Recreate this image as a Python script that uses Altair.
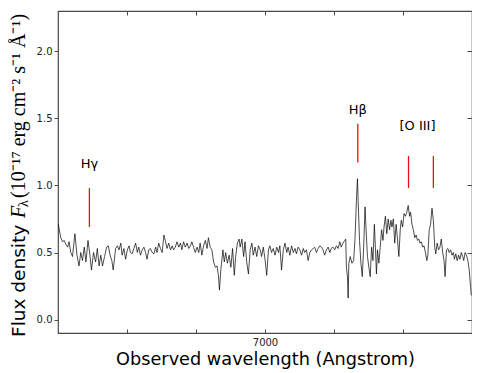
import altair as alt
import pandas as pd

# ---- spectrum (observed wavelength in Angstrom, flux in 1e-17 erg/cm2/s/A) ----
wavelength = [
    6401, 6408, 6413, 6418, 6423, 6428, 6432, 6437, 6442, 6449, 6455, 6461, 6466, 6471,
    6476, 6481, 6487, 6493, 6497, 6503, 6509, 6514, 6519, 6524, 6529, 6535, 6541, 6546,
    6551, 6556, 6560, 6567, 6572, 6577, 6582, 6586, 6591, 6596, 6601, 6606, 6610, 6615,
    6620, 6625, 6630, 6634, 6639, 6644, 6649, 6654, 6658, 6663, 6668, 6673, 6678, 6683,
    6687, 6692, 6697, 6702, 6707, 6711, 6716, 6721, 6726, 6731, 6735, 6740, 6745, 6750,
    6755, 6759, 6764, 6769, 6774, 6779, 6784, 6788, 6793, 6798, 6803, 6808, 6812, 6817,
    6822, 6827, 6832, 6836, 6841, 6846, 6851, 6856, 6861, 6865, 6868, 6872, 6878, 6882,
    6886, 6891, 6896, 6901, 6906, 6911, 6915, 6920, 6925,
    6928, 6933, 6938, 6942, 6947, 6952, 6957, 6962, 6966, 6971, 6976, 6981, 6986, 6990,
    6995, 7000, 7005, 7010, 7014, 7019, 7024, 7029, 7034, 7039, 7043, 7048, 7053, 7058,
    7063, 7067, 7072, 7077, 7082, 7087, 7091, 7096, 7101, 7106, 7111, 7115, 7120, 7125,
    7130, 7135, 7140, 7144, 7149, 7154, 7159, 7164, 7168, 7173, 7178, 7183, 7188, 7192,
    7197, 7202, 7207, 7212, 7217, 7221, 7226, 7231, 7234, 7236, 7239, 7241, 7243, 7247,
    7252, 7257, 7261, 7265, 7268, 7270, 7274, 7278, 7282, 7286, 7290, 7293, 7297, 7301,
    7305, 7309, 7313, 7317, 7320, 7323, 7326, 7330, 7334, 7338, 7342, 7345, 7349, 7353,
    7357, 7361, 7365, 7368, 7372, 7376, 7380, 7384, 7388, 7392, 7395, 7399, 7403, 7407,
    7411, 7415, 7419, 7422, 7426, 7430, 7434, 7438, 7442, 7446, 7449, 7453, 7457, 7461,
    7465, 7469, 7472, 7476, 7480, 7484, 7488, 7492, 7495, 7499, 7503, 7507, 7511, 7515,
    7519, 7522, 7526, 7530, 7534, 7538, 7542, 7546, 7549, 7553, 7557, 7561, 7565, 7569,
    7573, 7576, 7580, 7584, 7588, 7592, 7596, 7598,
]
flux = [
    0.71, 0.61, 0.58, 0.59, 0.56, 0.54, 0.58, 0.50, 0.47, 0.64, 0.48, 0.40, 0.50, 0.44,
    0.54, 0.43, 0.59, 0.47, 0.37, 0.50, 0.43, 0.53, 0.40, 0.48, 0.40, 0.47, 0.54, 0.55,
    0.48, 0.44, 0.37, 0.53, 0.55, 0.52, 0.57, 0.48, 0.53, 0.45, 0.52, 0.55, 0.50, 0.49,
    0.53, 0.57, 0.50, 0.54, 0.48, 0.52, 0.54, 0.50, 0.45, 0.52, 0.53, 0.50, 0.49, 0.54,
    0.50, 0.57, 0.53, 0.50, 0.63, 0.59, 0.53, 0.57, 0.52, 0.55, 0.52, 0.54, 0.58, 0.54,
    0.57, 0.52, 0.58, 0.54, 0.57, 0.53, 0.55, 0.58, 0.54, 0.50, 0.54, 0.50, 0.57, 0.48,
    0.55, 0.59, 0.53, 0.61, 0.54, 0.52, 0.43, 0.39, 0.40, 0.33, 0.22, 0.37, 0.52, 0.43,
    0.50, 0.42, 0.48, 0.39, 0.53, 0.33, 0.47, 0.57, 0.60,
    0.54, 0.60, 0.47, 0.58, 0.43, 0.34, 0.52, 0.57, 0.48, 0.54, 0.47, 0.55, 0.52, 0.47,
    0.54, 0.45, 0.33, 0.52, 0.55, 0.50, 0.53, 0.48, 0.54, 0.50, 0.55, 0.37, 0.52, 0.57,
    0.50, 0.54, 0.48, 0.55, 0.50, 0.53, 0.49, 0.54, 0.52, 0.48, 0.53, 0.50, 0.52, 0.44,
    0.50, 0.52, 0.53, 0.54, 0.50, 0.53, 0.55, 0.54, 0.52, 0.48, 0.52, 0.54, 0.50, 0.53,
    0.54, 0.52, 0.55, 0.53, 0.58, 0.54, 0.57, 0.59, 0.60, 0.39, 0.32, 0.16, 0.42, 0.47,
    0.42, 0.44, 0.61, 0.89, 1.05, 0.89, 0.59, 0.42, 0.32, 0.54, 0.84, 0.67, 0.47, 0.39,
    0.32, 0.54, 0.44, 0.71, 0.54, 0.34, 0.52, 0.42, 0.54, 0.67, 0.59, 0.69, 0.77, 0.64,
    0.75, 0.67, 0.74, 0.69, 0.75, 0.57, 0.71, 0.60, 0.47, 0.67, 0.74, 0.69, 0.79, 0.77,
    0.80, 0.85, 0.77, 0.80, 0.71, 0.67, 0.61, 0.63, 0.59, 0.60, 0.57, 0.58, 0.54, 0.55,
    0.50, 0.44, 0.48, 0.67, 0.71, 0.83, 0.74, 0.54, 0.49, 0.57, 0.52, 0.54, 0.60, 0.50,
    0.44, 0.32, 0.52, 0.53, 0.50, 0.52, 0.48, 0.50, 0.45, 0.49, 0.44, 0.48, 0.45, 0.50,
    0.47, 0.44, 0.50, 0.48, 0.44, 0.37, 0.24, 0.18,
]

# ---- emission-line markers ----
line_wl = [6491, 7269, 7416, 7488]
line_lo = [0.69, 1.17, 0.98, 0.98]
line_hi = [0.98, 1.46, 1.22, 1.22]

label_text = ["Hγ", "Hβ", "[O III]"]
label_wl = [6491, 7269, 7442]
label_y = [1.16, 1.56, 1.44]

# ---- axes ----
x_domain = [6400, 7600]
y_domain = [-0.1, 2.3]
x_ticks = [6600, 6800, 7000, 7200, 7400]
x_labelled = 7000
y_ticks = [0.0, 0.5, 1.0, 1.5, 2.0]
x_title = "Observed wavelength (Angstrom)"
y_title_sans = "Flux density"
y_title_f = "F"
y_title_sub = "λ"
y_title_rest = "(10⁻¹⁷ erg cm⁻² s⁻¹ Å⁻¹)"

W, H = 414, 322
FRAME = "#4a4a4a"

xs = alt.Scale(domain=x_domain, nice=False, zero=False)
ys = alt.Scale(domain=y_domain, nice=False, zero=False)

spec_df = pd.DataFrame({"wl": wavelength, "flux": flux})
lines_df = pd.DataFrame({"wl": line_wl, "lo": line_lo, "hi": line_hi})
labels_df = pd.DataFrame({"wl": label_wl, "y": label_y, "t": label_text})

spectrum = alt.Chart(spec_df).mark_line(color="black", strokeWidth=0.7).encode(
    x=alt.X("wl:Q", scale=xs, axis=alt.Axis(
        orient="bottom", values=x_ticks, format="d",
        labelExpr=f"datum.value == {x_labelled} ? datum.label : ''",
        ticks=False, tickSize=0, domain=False, grid=False,
        labelFont="DejaVu Sans", labelFontSize=10, labelColor="#222", labelPadding=4,
        title=x_title, titleFont="DejaVu Sans", titleFontSize=17.7, titleFontWeight="normal",
        titleColor="black", titleX=W / 2, titleY=31, titleBaseline="alphabetic",
        titleAlign="center")),
    y=alt.Y("flux:Q", scale=ys, axis=alt.Axis(
        orient="left", values=y_ticks, format=".1f", tickSize=4, tickColor=FRAME,
        domain=False, grid=False, labelFont="DejaVu Sans", labelFontSize=10,
        labelColor="#222", labelPadding=2, title=None)),
)

markers = alt.Chart(lines_df).mark_rule(color="#ee1111", strokeWidth=1.3).encode(
    x=alt.X("wl:Q", scale=xs, axis=alt.Axis(
        orient="top", offset=-H, values=x_ticks, labels=False, tickSize=4,
        tickColor=FRAME, domain=False, grid=False, title=None)),
    y=alt.Y("lo:Q", scale=ys, axis=alt.Axis(
        orient="left", offset=-W, values=y_ticks, labels=False, tickSize=5,
        tickColor=FRAME, domain=False, grid=False, title=None)),
    y2="hi:Q",
)

labels = alt.Chart(labels_df).mark_text(
    font="DejaVu Sans", fontSize=13, color="black", baseline="middle", align="center"
).encode(
    x=alt.X("wl:Q", scale=xs, axis=alt.Axis(
        orient="bottom", offset=-H, values=x_ticks, labels=False, tickSize=4,
        tickColor=FRAME, domain=False, grid=False, title=None)),
    y=alt.Y("y:Q", scale=ys, axis=None),
    text="t:N",
)

ytitle_a = alt.Chart(pd.DataFrame({"t": [y_title_sans]})).mark_text(
    font="DejaVu Sans", fontSize=18.5, angle=270, align="left", baseline="alphabetic",
    color="black"
).encode(text="t:N", x=alt.value(-33), y=alt.value(326))

ytitle_f = alt.Chart(pd.DataFrame({"t": [y_title_f]})).mark_text(
    font="Liberation Serif", fontSize=20, fontStyle="italic", angle=270, align="left",
    baseline="alphabetic", color="black"
).encode(text="t:N", x=alt.value(-33), y=alt.value(207))

ytitle_sub = alt.Chart(pd.DataFrame({"t": [y_title_sub]})).mark_text(
    font="Liberation Serif", fontSize=14, angle=270, align="left",
    baseline="alphabetic", color="black"
).encode(text="t:N", x=alt.value(-30), y=alt.value(196))

ytitle_rest = alt.Chart(pd.DataFrame({"t": [y_title_rest]})).mark_text(
    font="Liberation Serif", fontSize=20, angle=270, align="left",
    baseline="alphabetic", color="black"
).encode(text="t:N", x=alt.value(-33), y=alt.value(187))

chart = alt.layer(spectrum, markers, labels, ytitle_a, ytitle_f, ytitle_sub,
                  ytitle_rest).resolve_axis(
    x="independent", y="independent"
).properties(
    width=W, height=H,
    autosize=alt.AutoSizeParams(type="none"),
    padding={"left": 50, "top": 3, "right": 0, "bottom": 38},
).configure_view(stroke=FRAME, strokeWidth=1.2)

chart.save("out.html", embed_options={"renderer": "svg", "actions": False})
